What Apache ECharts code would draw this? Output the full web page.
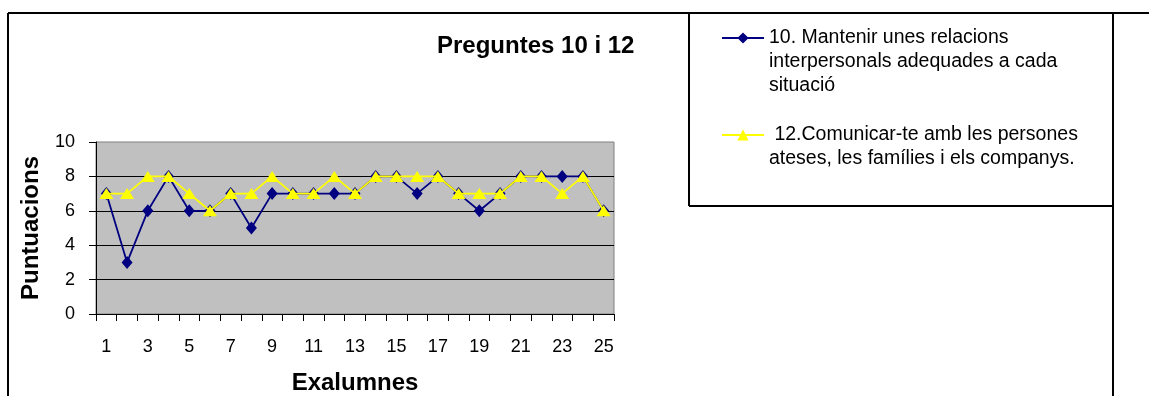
<!DOCTYPE html>
<html>
<head>
<meta charset="utf-8">
<script src="https://cdn.jsdelivr.net/npm/echarts@6/dist/echarts.min.js"></script>
<style>html,body{margin:0;padding:0;background:#fff;}#c{width:1149px;height:396px;}</style>
</head>
<body>
<div id="c"></div>
<script>
var categories = ['1','2','3','4','5','6','7','8','9','10','11','12','13','14','15','16','17','18','19','20','21','22','23','24','25'];
var serie10 = [7,3,6,8,6,6,7,5,7,7,7,7,7,8,8,7,8,7,6,7,8,8,8,8,6];
var serie12 = [7,7,8,8,7,6,7,7,8,7,7,8,7,8,8,8,8,7,7,7,8,8,7,8,6];
var name10 = '10. Mantenir unes relacions interpersonals adequades a cada situació';
var name12 = ' 12.Comunicar-te amb les persones ateses, les famílies i els companys.';
var legendLines = {};
legendLines[name10] = ['10. Mantenir unes relacions', 'interpersonals adequades a cada', 'situació'];
legendLines[name12] = [' 12.Comunicar-te amb les persones', 'ateses, les famílies i els companys.'];
var yTicks = {min: 0, max: 10, interval: 2};

var FONT = '"Liberation Sans", Arial, sans-serif';
var chart = echarts.init(document.getElementById('c'), null, {renderer: 'canvas'});

function legendFmt(name) {
  var lines = legendLines[name];
  var pre = '';
  for (var i = 1; i < lines.length; i++) pre += '\n';
  return pre + lines.join('\n');
}

var legendCommon = {
  orient: 'vertical',
  padding: 0,
  itemWidth: 42,
  itemHeight: 14,
  itemGap: 0,
  selectedMode: false,
  formatter: legendFmt,
  textStyle: {fontFamily: FONT, fontSize: 19.5, lineHeight: 24, color: '#000'}
};

var option = {
  backgroundColor: '#fff',
  animation: false,
  title: {
    text: 'Preguntes 10 i 12',
    left: 437,
    top: 34,
    padding: 0,
    textStyle: {fontFamily: FONT, fontSize: 24, fontWeight: 'bold', color: '#000'}
  },
  legend: [
    Object.assign({}, legendCommon, {data: [name10], left: 721, top: -22}),
    Object.assign({}, legendCommon, {data: [name12], left: 721, top: 99})
  ],
  grid: {
    left: 96, right: 535, top: 142, bottom: 82,
    show: true, backgroundColor: '#C0C0C0', borderColor: '#808080', borderWidth: 1,
    containLabel: false
  },
  xAxis: {
    type: 'category',
    data: categories,
    boundaryGap: true,
    name: 'Exalumnes',
    nameLocation: 'middle',
    nameGap: 57,
    nameTextStyle: {fontFamily: FONT, fontSize: 24, fontWeight: 'bold', color: '#000'},
    axisLine: {show: true, lineStyle: {color: '#000', width: 1}},
    axisTick: {show: true, interval: 0, length: 7, lineStyle: {color: '#000'}},
    axisLabel: {interval: 1, fontFamily: FONT, fontSize: 18, color: '#000', margin: 24},
    splitLine: {show: false}
  },
  yAxis: {
    type: 'value',
    min: yTicks.min, max: yTicks.max, interval: yTicks.interval,
    name: 'Puntuacions',
    nameLocation: 'middle',
    nameGap: 53,
    nameTextStyle: {fontFamily: FONT, fontSize: 24, fontWeight: 'bold', color: '#000'},
    axisLine: {show: true, lineStyle: {color: '#000', width: 1}},
    axisTick: {show: true, length: 7, lineStyle: {color: '#000'}},
    axisLabel: {fontFamily: FONT, fontSize: 18, color: '#000', margin: 21},
    splitLine: {show: true, showMinLine: false, showMaxLine: false, lineStyle: {color: '#000', width: 1}}
  },
  series: [
    {
      name: name10, type: 'line', data: serie10,
      symbol: 'diamond', symbolSize: [11, 13],
      lineStyle: {color: '#000080', width: 1.8},
      itemStyle: {color: '#000080'},
      z: 2
    },
    {
      name: name12, type: 'line', data: serie12,
      symbol: 'triangle', symbolSize: [14, 11],
      lineStyle: {color: '#FFFF00', width: 1.8},
      itemStyle: {color: '#FFFF00'},
      z: 3
    }
  ],
  graphic: [
    {type: 'line', shape: {x1: 8, y1: 13, x2: 1149, y2: 13}, style: {stroke: '#000', lineWidth: 2}, silent: true},
    {type: 'line', shape: {x1: 8, y1: 13, x2: 8, y2: 396}, style: {stroke: '#000', lineWidth: 2}, silent: true},
    {type: 'line', shape: {x1: 1113, y1: 13, x2: 1113, y2: 396}, style: {stroke: '#000', lineWidth: 2}, silent: true},
    {type: 'line', shape: {x1: 689, y1: 13, x2: 689, y2: 206}, style: {stroke: '#000', lineWidth: 2}, silent: true},
    {type: 'line', shape: {x1: 689, y1: 206, x2: 1113, y2: 206}, style: {stroke: '#000', lineWidth: 2}, silent: true}
  ]
};
chart.setOption(option);
</script>
</body>
</html>
